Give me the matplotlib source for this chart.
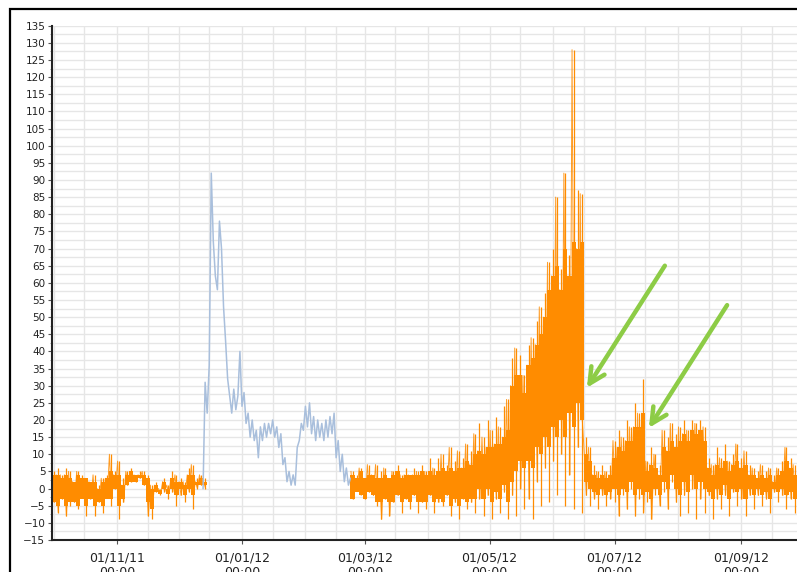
import matplotlib
matplotlib.use('Agg')
import matplotlib.pyplot as plt
import matplotlib.dates as mdates
from matplotlib.ticker import MultipleLocator
from matplotlib.patches import Rectangle
import numpy as np
import pandas as pd

# first orange stretch: one entry every 2 days from 30/09/11
# hi/lo = spike extremes, core_hi/core_lo = the solid part of the band
orange1_start = '2011-09-30'
orange1_hi = [5, 6, 4, 6, 5, 2, 5, 4, 3, 2,
              4, 1, 3, 4, 10, 5, 8, 3, 5, 6,
              4, 5, 5, 4, 1, 2, 0, 3, 1, 5,
              4, 3, 2, 6, 7, 3, 4, 3]
orange1_lo = [-4, -7, -3, -8, -5, -4, -6, -2, -8, -3,
              -8, -4, -7, -2, -5, 0, -9, -4, 1, 2,
              2, 3, 1, -8, -9, -1, -2, -1, -3, -1,
              -5, -2, -4, -1, -6, 0, 1, 0]
orange1_core_hi = [4, 4, 3, 4, 3, 2, 4, 3, 3, 2,
                   2, 0, 2, 3, 5, 4, 4, 1, 4, 5,
                   4, 4, 4, 3, 0, 1, -0.5, 2, 0, 3,
                   2, 2, 1, 4, 4, 2, 3, 2]
orange1_core_lo = [-4, -5, -3, -5, -4, -4, -5, -3, -5, -3,
                   -5, -4, -5, -3, -3, 0, -5, -3, 1, 2,
                   2, 3, 1, -4, -6, -1, -1.5, 0, -1.5, 0,
                   -2, 0, -2, 0, -2, 1, 1, 1]

# blue stretch: daily values from 13/12/11
blue_start = '2011-12-13'
blue_vals = [0, 31, 22, 36, 92, 72, 62, 58, 78, 70,
             53, 43, 32, 27, 22, 29, 23, 27, 40, 24,
             28, 19, 22, 15, 20, 14, 17, 9, 18, 14,
             19, 15, 19, 16, 20, 15, 18, 12, 16, 7,
             9, 2, 5, 1, 4, 1, 12, 14, 19, 17,
             24, 18, 25, 16, 21, 14, 20, 15, 19, 14,
             20, 15, 21, 16, 22, 9, 14, 5, 10, 2,
             6, 1, 3]

# second orange stretch: one entry every 2 days from 23/02/12
orange2_start = '2012-02-23'
orange2_hi = [5, 4, 6, 3, 7, 4, 7, 5, 6, 3,
              5, 7, 4, 6, 4, 6, 5, 7, 5, 9,
              6, 9, 10, 7, 12, 8, 11, 9, 13, 11,
              16, 19, 15, 20, 17, 21, 18, 24, 26, 38,
              41, 39, 33, 42, 44, 49, 53, 57, 66, 70,
              85, 64, 92, 68, 128, 87, 86, 15, 12, 7,
              5, 7, 5, 7, 14, 17, 15, 20, 18, 25,
              22, 32, 8, 12, 10, 7, 17, 15, 19, 16,
              18, 20, 17, 20, 19, 20, 18, 9, 7, 12,
              9, 13, 8, 10, 13, 9, 11, 7, 6, 5,
              7, 5, 6, 4, 6, 8, 12, 9, 7, 5, 6]
orange2_lo = [-3, 0, -1, -3, -1, -2, -5, -9, -3, -8,
              -4, -2, -7, -3, -6, -2, -7, -4, -6, -2,
              -7, -4, -5, -2, -8, -4, -9, -3, -6, -4,
              -7, -3, -8, -2, -9, -3, -7, -1, -9, -2,
              -8, 0, -6, -3, -9, 2, -5, 6, -4, 8,
              -2, 10, -5, 4, -6, 12, -7, -2, -5, -3,
              -6, -2, -5, -3, -4, -8, -2, -6, 0, -8,
              -3, -7, -4, -9, -2, -5, -1, -6, 2, -4,
              -8, -2, -7, 0, -9, -3, -7, -2, -9, -3,
              -6, -2, -8, -1, -5, -3, -8, -2, -6, -2,
              -5, -3, -7, -1, -4, -2, -6, -3, -7, -2, -4]
orange2_core_hi = [4, 3, 5, 3, 4, 4, 3, 3, 4, 3,
                   4, 5, 3, 4, 4, 4, 4, 5, 4, 5,
                   4, 5, 6, 5, 6, 5, 6, 6, 8, 7,
                   10, 11, 10, 12, 12, 13, 13, 15, 17, 30,
                   33, 33, 28, 36, 38, 42, 45, 50, 58, 62,
                   65, 58, 70, 62, 72, 70, 72, 10, 8, 4,
                   3, 4, 3, 4, 9, 12, 11, 14, 14, 18,
                   18, 22, 5, 7, 6, 4, 12, 11, 14, 12,
                   14, 16, 14, 17, 16, 17, 14, 6, 4, 7,
                   6, 8, 5, 7, 8, 6, 7, 4, 4, 3,
                   4, 3, 4, 2, 4, 5, 8, 6, 4, 3, 4]
orange2_core_lo = [-3, -1, -2, -3, -1, -2, -4, -4, -3, -4,
                   -4, -2, -4, -3, -4, -2, -4, -4, -4, -2,
                   -4, -3, -4, -2, -5, -3, -5, -3, -4, -3,
                   -3, 0, -3, 0, -4, -1, -3, 1, -4, 2,
                   5, 8, 6, 8, 6, 12, 10, 15, 12, 18,
                   15, 20, 15, 22, 18, 25, 20, 2, 0, -1,
                   -2, 0, -2, -1, 0, -2, 0, -1, 2, -2,
                   0, -2, -1, -3, 0, -2, 2, 0, 4, 0,
                   -2, 2, -1, 4, 0, 2, 0, -1, -3, 0,
                   -2, 1, -3, 0, -1, 0, -3, 0, -2, 0,
                   -2, -1, -3, 0, -1, 0, -2, -1, -3, 0, -1]

# arrows: (head date, head value, tail date, tail value)
arrows = [('2012-06-17 12:00', 29.4, '2012-07-25 14:00', 65),
          ('2012-07-17 19:00', 17.7, '2012-08-25 00:00', 53.5)]

orange = '#ff8c00'
blue = '#a9bfdc'
green = '#8dcc46'


def draw_band(start, hi, lo, core_hi, core_lo):
    t = pd.date_range(start, periods=len(hi), freq='2D')
    core_h = np.array(core_hi, dtype=float)
    core_l = np.array(core_lo, dtype=float)
    # solid part of the noisy signal
    ax.bar(t, core_h - core_l, bottom=core_l, width=2, align='edge',
           color=orange, lw=0)
    # thin spikes out to the extremes
    ax.vlines(t + pd.Timedelta(days=1), lo, hi, color=orange, lw=0.9)
    # zigzag through the extremes for the noisy texture
    tt = []
    vv = []
    for i in range(len(hi)):
        tt.append(t[i] + pd.Timedelta(hours=6))
        vv.append(core_hi[i] if i % 2 else hi[i])
        tt.append(t[i] + pd.Timedelta(hours=30))
        vv.append(lo[i] if i % 2 else core_lo[i])
    ax.plot(tt, vv, color=orange, lw=0.7, alpha=0.85)


fig = plt.figure(figsize=(7.97, 5.72), dpi=100)
ax = fig.add_axes([51.6 / 797, 32 / 572, (831.5 - 51.6) / 797, (540 - 25.7) / 572])

draw_band(orange1_start, orange1_hi, orange1_lo, orange1_core_hi, orange1_core_lo)
tb = pd.date_range(blue_start, periods=len(blue_vals), freq='D')
ax.plot(tb, blue_vals, color=blue, lw=1.1)
draw_band(orange2_start, orange2_hi, orange2_lo, orange2_core_hi, orange2_core_lo)

for head_t, head_v, tail_t, tail_v in arrows:
    ax.annotate('', xy=(pd.Timestamp(head_t), head_v),
                xytext=(pd.Timestamp(tail_t), tail_v),
                arrowprops=dict(arrowstyle='->', color=green, lw=3.2,
                                mutation_scale=28, shrinkA=0, shrinkB=0))

ax.set_xlim(pd.Timestamp('2011-09-30'), pd.Timestamp('2012-10-15'))
ax.set_ylim(-15, 135)

ax.yaxis.set_major_locator(MultipleLocator(5))
ax.yaxis.set_minor_locator(MultipleLocator(2.5))
ax.xaxis.set_major_locator(mdates.MonthLocator(bymonth=[1, 3, 5, 7, 9, 11]))
ax.xaxis.set_major_formatter(mdates.DateFormatter('%d/%m/%y\n%H:%M'))
ax.xaxis.set_minor_locator(mdates.DayLocator(bymonthday=[1, 16]))

ax.grid(which='both', color='#e6e6e6', lw=1.0)
ax.set_axisbelow(True)

for side in ['top', 'right']:
    ax.spines[side].set_visible(False)
for side in ['left', 'bottom']:
    ax.spines[side].set_color('#222222')
    ax.spines[side].set_linewidth(1.5)

ax.tick_params(axis='y', which='major', length=3, pad=1.5, labelsize=7.5,
               labelcolor='#222222', color='#555555')
ax.tick_params(axis='y', which='minor', length=1.5, color='#888888')
ax.tick_params(axis='x', which='major', length=3, pad=5, labelsize=9,
               labelcolor='#222222', color='#555555')
ax.tick_params(axis='x', which='minor', length=0)

# black frame around the whole picture (right and bottom cut off)
fig.patches.append(Rectangle((9.5 / 797, -0.1), 1.2, 1.1 - 8.5 / 572,
                             transform=fig.transFigure, fill=False,
                             ec='black', lw=1.6))

plt.savefig('out.png', dpi=100)
